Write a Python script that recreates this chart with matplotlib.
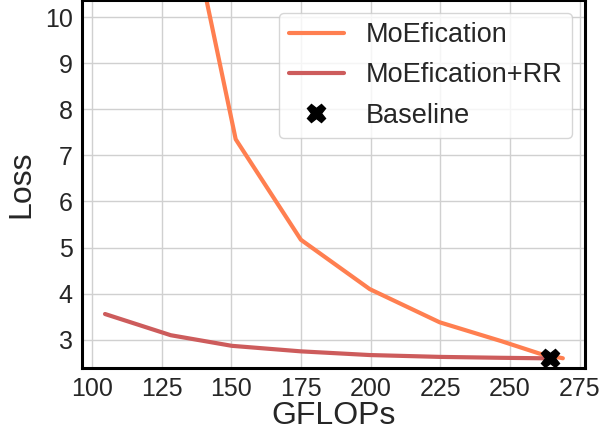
import matplotlib
matplotlib.use("Agg")
import matplotlib.pyplot as plt
import seaborn as sns

sns.set_style("whitegrid")
plt.rcParams['font.family'] = ['Liberation Sans', 'DejaVu Sans']

moe_x = [128.5, 151.6, 175.0, 199.7, 224.8, 247.0, 260.7, 269.0]
moe_y = [14.0, 7.35, 5.17, 4.10, 3.38, 2.97, 2.70, 2.60]
rr_x = [104.7, 128.3, 150.2, 175.0, 199.7, 224.8, 247.0, 261.8]
rr_y = [3.56, 3.10, 2.87, 2.75, 2.67, 2.63, 2.61, 2.60]
base_x = [264.3]
base_y = [2.61]

fig = plt.figure(figsize=(6.02, 4.37), dpi=100)
ax = fig.add_axes([0.136, 0.158, 0.836, 0.842])

ax.plot(moe_x, moe_y, color='#FF7F50', lw=3, label='MoEfication')
ax.plot(rr_x, rr_y, color='#CD5C5C', lw=3, label='MoEfication+RR')
ax.plot(base_x, base_y, 'X', color='black', ms=13, label='Baseline', linestyle='none')

ax.set_xlim(96.4, 277)
ax.set_ylim(2.39, 10.37)
ax.set_xticks([100, 125, 150, 175, 200, 225, 250, 275])
ax.set_yticks([3, 4, 5, 6, 7, 8, 9, 10])
ax.tick_params(labelsize=18, colors='#262626', pad=3)
ax.set_xlabel('GFLOPs', fontsize=23, color='#262626', labelpad=0)
ax.set_ylabel('Loss', fontsize=23, color='#262626', labelpad=6)
ax.grid(color='#d0d0d0', lw=1)
for s in ax.spines.values():
    s.set_color('black')
    s.set_linewidth(2.2)

leg = ax.legend(loc='upper right', fontsize=19.5, frameon=True, borderpad=0.35,
                labelspacing=0.52, handlelength=2.05, handletextpad=0.8,
                borderaxespad=0, bbox_to_anchor=(0.974, 0.965))
for t in leg.get_texts():
    t.set_color('#262626')

fig.savefig('out.png', dpi=100)
